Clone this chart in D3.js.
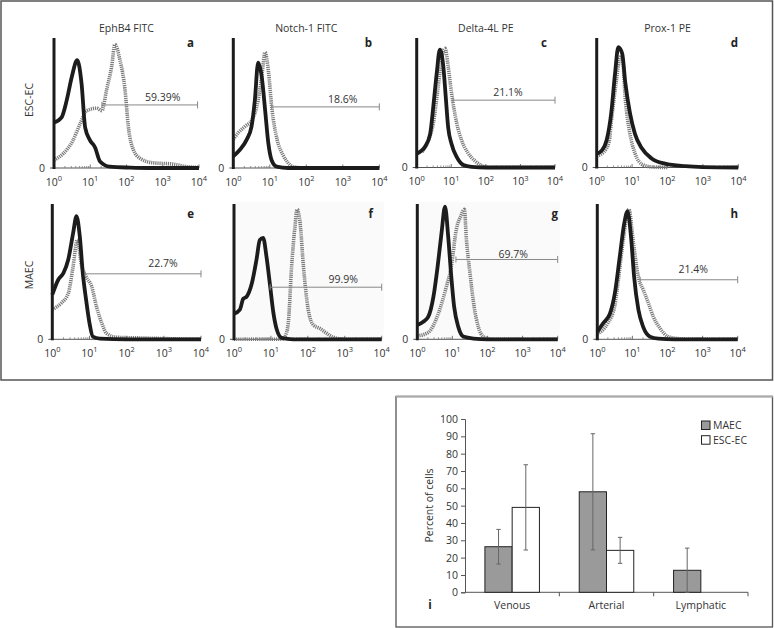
<!DOCTYPE html>
<html><head><meta charset="utf-8">
<script src="https://cdn.jsdelivr.net/npm/d3@7"></script>
<style>
body{margin:0;background:#fff;}
svg text{font-family:"Open Sans","Noto Sans",sans-serif;fill:#333;}
</style></head>
<body>
<svg id="c" width="774" height="628"></svg>
<script>
// ---------- DATA ----------
const markers = ["EphB4 FITC","Notch-1 FITC","Delta-4L PE","Prox-1 PE"];
const rowLabels = ["ESC-EC","MAEC"];
const panelLetters = ["a","b","c","d","e","f","g","h"];
const decadeTicks = [0,1,2,3,4];
// histogram curves: [log10 intensity, % of axis height]
const solidA = [[0,35],[0.21,39],[0.35,52],[0.49,70],[0.64,83],[0.76,65],[0.86,31],[0.99,21.5],[1.13,16],[1.27,5],[1.54,1],[2.1,0.3],[2.6,0],[4,0]];
const dottedA = [[0,6],[0.25,11],[0.52,21],[0.72,34],[0.9,44],[1.18,46],[1.32,44],[1.45,60],[1.59,78],[1.68,95],[1.82,83],[1.96,60],[2.05,32],[2.19,14],[2.37,7.5],[2.73,4],[3.28,3],[3.67,1],[4,0.5]];
const solidB = [[0,9],[0.18,14],[0.37,22],[0.5,32],[0.59,52],[0.68,81],[0.78,70],[0.87,45],[0.96,19],[1.05,6],[1.19,1],[1.5,0],[4,0]];
const dottedB = [[0,22],[0.13,27],[0.32,32],[0.51,37],[0.68,52],[0.79,73],[0.87,89],[0.96,75],[1.06,45],[1.2,22],[1.36,10],[1.5,4],[1.63,1],[2,0],[4,0]];
const solidC = [[0,10.6],[0.14,13],[0.24,16],[0.39,26],[0.48,47],[0.58,73],[0.67,91],[0.77,78],[0.84,54.5],[0.91,31],[1.01,18],[1.16,8],[1.35,2],[1.59,0.5],[2,0],[4,0]];
const dottedC = [[0.15,12],[0.34,21],[0.48,34],[0.62,62],[0.73,85],[0.82,92],[0.91,78],[1.01,57],[1.16,34],[1.3,21],[1.49,11],[1.69,5],[1.88,1.5],[2.1,0],[4,0]];
const solidD = [[0,10.6],[0.14,13],[0.28,21],[0.41,42],[0.52,73],[0.61,93],[0.72,88],[0.81,65],[0.94,42],[1.08,26],[1.27,15],[1.55,7],[1.93,3],[2.5,1],[3,0.3],[4,0]];
const dottedD = [[0,9],[0.2,12],[0.35,20],[0.42,37],[0.55,66],[0.66,85],[0.72,86],[0.81,52],[0.94,26],[1.08,11],[1.31,2],[1.6,0.3],[2,0]];
const solidE = [[0,33],[0.16,44],[0.3,49],[0.43,59],[0.56,78.5],[0.65,91],[0.74,76],[0.82,49],[0.91,29],[1.0,12],[1.09,2],[1.28,0.5],[2,0],[4,0]];
const dottedE = [[0,22],[0.25,27],[0.43,34],[0.56,54],[0.67,73.5],[0.79,54],[0.91,46],[1.06,39],[1.19,24],[1.33,12],[1.46,4.4],[1.73,1.5],[2.36,1],[3.07,0.5],[4,0]];
const solidF = [[0,19],[0.16,22],[0.25,30],[0.34,31.5],[0.48,41],[0.61,59],[0.7,73.5],[0.79,75],[0.88,61],[0.98,39],[1.07,19],[1.16,7],[1.29,1],[1.6,0],[4,0]];
const dottedF = [[0,0],[1.3,0],[1.38,2],[1.47,12],[1.56,54],[1.65,83],[1.71,96],[1.79,86],[1.88,54],[2.01,22],[2.15,10.6],[2.33,8],[2.51,4.4],[2.69,1.5],[3,0],[4,0]];
const solidG = [[0,10.6],[0.17,13],[0.31,16.5],[0.46,31.5],[0.58,54],[0.69,78.5],[0.79,98],[0.88,76],[0.96,49],[1.05,24],[1.17,9],[1.31,2],[1.6,0.5],[2,0],[4,0]];
const dottedG = [[0,2.5],[0.31,5],[0.6,19],[0.83,39],[0.97,54],[1.11,81],[1.24,91],[1.34,96],[1.4,73.5],[1.5,49],[1.62,24],[1.74,9],[1.88,2],[2.03,0.5],[2.3,0],[4,0]];
const solidH = [[0,5.6],[0.17,12],[0.36,19],[0.5,34],[0.64,61],[0.77,86],[0.86,94.5],[0.96,76],[1.05,46],[1.17,22],[1.31,9],[1.5,2],[1.74,0.5],[2.2,0],[4,0]];
const dottedH = [[0,4],[0.3,12],[0.5,25],[0.6,44],[0.74,73.5],[0.9,96],[1.03,71],[1.17,46],[1.31,36.5],[1.46,26.5],[1.6,16.5],[1.79,8],[2.02,2],[2.3,0.5],[2.6,0],[4,0]];
const solidCurves = [solidA,solidB,solidC,solidD,solidE,solidF,solidG,solidH];
const dottedCurves = [dottedA,dottedB,dottedC,dottedD,dottedE,dottedF,dottedG,dottedH];
// gates (marker region)
const gateLabels = ["59.39%","18.6%","21.1%",null,"22.7%","99.9%","69.7%","21.4%"];
const gateStart = [1.32,1.05,1.05,null,0.88,0.98,1.1,1.22];
const gateEnd = [3.96,4,4,null,4,4,4,4];
const gateLevel = [48.5,47,52,null,48.4,38.5,59,44];
const gateLabelAt = [3.0,3.0,2.64,null,2.98,2.96,2.73,2.73];

// bar chart (panel i)
const cellTypes = ["Venous","Arterial","Lymphatic"];
const seriesNames = ["MAEC","ESC-EC"];
const maecValues = [26.3,58.0,12.7];
const maecErrors = [10.0,33.5,12.8];
const escValues = [49.0,24.2,0];
const escErrors = [24.6,7.5,0];
const percentTicks = [0,10,20,30,40,50,60,70,80,90,100];

// ---------- LAYOUT ----------
const svg = d3.select("#c");
const panels = [
  {x0:54,x1:199,top:38,base:168,lx:194,ldy:3.5},
  {x0:233.3,x1:379.3,top:38,base:168,lx:372,ldy:4},
  {x0:416.7,x1:555,top:38,base:167.5,lx:547,ldy:4},
  {x0:596.7,x1:738.3,top:38,base:167.5,lx:738,ldy:4},
  {x0:52.3,x1:201,top:204,base:339.3,lx:194,ldy:7},
  {x0:234,x1:381.7,top:204,base:339.3,lx:373,ldy:4},
  {x0:417.3,x1:557.7,top:204,base:339.3,lx:558,ldy:1.5},
  {x0:597.3,x1:737.7,top:204,base:339.3,lx:738,ldy:7}
];
const shaded = [5,6];

// outer frames
svg.append("rect").attr("x",1).attr("y",1).attr("width",771.5).attr("height",379)
  .attr("fill","none").attr("stroke","#555").attr("stroke-width",1.5);
svg.append("rect").attr("x",396).attr("y",396.5).attr("width",376.5).attr("height",230.5)
  .attr("fill","none").attr("stroke","#555").attr("stroke-width",1.3);
svg.append("line").attr("x1",396).attr("x2",773).attr("y1",396.5).attr("y2",396.5)
  .attr("stroke","#aaa").attr("stroke-width",2);

// column titles
markers.forEach((m,i)=>{
  const p = panels[i];
  svg.append("text").attr("x",(p.x0+p.x1)/2).attr("y",32).attr("text-anchor","middle")
    .attr("font-size",10.5).text(m);
});
// row labels
rowLabels.forEach((r,i)=>{
  const cy = i===0 ? 100 : 275;
  svg.append("text").attr("transform",`translate(33,${cy}) rotate(-90)`)
    .attr("text-anchor","middle").attr("font-size",10.5).text(r);
});

const line = d3.line().curve(d3.curveMonotoneX);

panels.forEach((p,i)=>{
  const x = d3.scaleLinear().domain([0,4]).range([p.x0,p.x1]);
  const y = d3.scaleLinear().domain([0,100]).range([p.base,p.top]);
  const g = svg.append("g");
  if (shaded.includes(i)) {
    g.append("rect").attr("x",p.x0).attr("y",p.top-2).attr("width",p.x1-p.x0+2)
      .attr("height",p.base-p.top+2).attr("fill","#fafafa");
  }
  // x axis baseline
  g.append("line").attr("x1",x(0)).attr("x2",x(4)).attr("y1",y(0)).attr("y2",y(0))
    .attr("stroke","#555").attr("stroke-width",1);
  // minor log ticks
  const minors = [];
  for (let d=0; d<4; d++) for (let k=2; k<=9; k++) minors.push(d+Math.log10(k));
  g.selectAll(".mt").data(minors).enter().append("line")
    .attr("x1",d=>x(d)).attr("x2",d=>x(d)).attr("y1",y(0)).attr("y2",y(0)-2)
    .attr("stroke","#777").attr("stroke-width",0.8);
  g.selectAll(".Mt").data(decadeTicks).enter().append("line")
    .attr("x1",d=>x(d)).attr("x2",d=>x(d)).attr("y1",y(0)).attr("y2",y(0)-3.5)
    .attr("stroke","#666").attr("stroke-width",0.9);
  // decade tick labels
  decadeTicks.forEach(d=>{
    const t = g.append("text").attr("x",x(d)).attr("y",p.base+17.5)
      .attr("text-anchor","middle").attr("font-size",10.5);
    t.append("tspan").text("10");
    t.append("tspan").attr("dy",-4.5).attr("font-size",7.5).text(String(d));
  });
  // zero tick on y
  g.append("line").attr("x1",x(0)-4).attr("x2",x(0)).attr("y1",y(0)).attr("y2",y(0))
    .attr("stroke","#555");
  g.append("text").attr("x",x(0)-9).attr("y",y(0)+3.5).attr("text-anchor","end")
    .attr("font-size",10.5).text("0");
  // curves
  g.append("path").attr("d",line(dottedCurves[i].map(v=>[x(v[0]),y(v[1])])))
    .attr("fill","none").attr("stroke","#7a7a7a").attr("stroke-width",3.6)
    .attr("stroke-dasharray","1.2,0.9").attr("stroke-linejoin","round");
  g.append("path").attr("d",line(solidCurves[i].map(v=>[x(v[0]),y(v[1])])))
    .attr("fill","none").attr("stroke","#1c1c1c").attr("stroke-width",3.8)
    .attr("stroke-linejoin","round");
  // y axis (thick first-bin spike)
  g.append("line").attr("x1",x(0)).attr("x2",x(0)).attr("y1",y(0)+1).attr("y2",y(100))
    .attr("stroke","#1c1c1c").attr("stroke-width",3);
  // gate
  if (gateLabels[i]) {
    const gy = y(gateLevel[i]);
    g.append("line").attr("x1",x(gateStart[i])).attr("x2",x(gateEnd[i]))
      .attr("y1",gy).attr("y2",gy).attr("stroke","#888").attr("stroke-width",1);
    g.append("line").attr("x1",x(gateEnd[i])).attr("x2",x(gateEnd[i]))
      .attr("y1",gy-3.5).attr("y2",gy+3.5).attr("stroke","#888").attr("stroke-width",1);
    g.append("line").attr("x1",x(gateStart[i])).attr("x2",x(gateStart[i]))
      .attr("y1",gy-3).attr("y2",gy+3).attr("stroke","#888").attr("stroke-width",1);
    g.append("text").attr("x",x(gateLabelAt[i])).attr("y",gy-p.ldy)
      .attr("text-anchor","middle").attr("font-size",10.5).text(gateLabels[i]);
  }
  // panel letter
  g.append("text").attr("x",p.lx).attr("y",p.top+8.7+(i>=4?4.8:0))
    .attr("text-anchor","end").attr("font-size",11.5).attr("font-weight","bold")
    .style("fill","#222").text(panelLetters[i]);
});

// ---------- BAR CHART ----------
const bx = d3.scaleBand().domain(cellTypes).range([465,748]).padding(0);
const bs = d3.scaleBand().domain(seriesNames).range([0,bx.bandwidth()]).paddingInner(0).paddingOuter(0.73);
const by = d3.scaleLinear().domain([0,100]).range([592.3,419]);
const bg = svg.append("g");

const yAx = bg.append("g").attr("transform","translate(465,0)")
  .call(d3.axisLeft(by).tickValues(percentTicks).tickSize(4).tickPadding(3));
yAx.select(".domain").attr("stroke","#555");
yAx.selectAll(".tick line").attr("stroke","#555");
yAx.selectAll("text").attr("font-size",10.5).attr("font-family",null).style("fill","#333");

bg.append("line").attr("x1",465).attr("x2",748).attr("y1",by(0)).attr("y2",by(0)).attr("stroke","#555");
bg.selectAll(".ct").data(cellTypes).enter().append("line")
  .attr("x1",d=>bx(d)+bx.bandwidth()).attr("x2",d=>bx(d)+bx.bandwidth())
  .attr("y1",by(0)).attr("y2",by(0)+4).attr("stroke","#555");
bg.selectAll(".cl").data(cellTypes).enter().append("text")
  .attr("x",d=>bx(d)+bx.bandwidth()/2).attr("y",608.5).attr("text-anchor","middle")
  .attr("font-size",10.5).text(d=>d);

const seriesData = [
  {name:"MAEC", values:maecValues, errors:maecErrors, fill:"#9a9a9a"},
  {name:"ESC-EC", values:escValues, errors:escErrors, fill:"#ffffff"}
];
seriesData.forEach(s=>{
  cellTypes.forEach((c,j)=>{
    const v = s.values[j];
    const x0 = bx(c)+bs(s.name);
    if (v>0) {
      bg.append("rect").attr("x",x0).attr("y",by(v)).attr("width",bs.bandwidth())
        .attr("height",by(0)-by(v)).attr("fill",s.fill).attr("stroke","#222").attr("stroke-width",1);
    }
    const e = s.errors[j];
    if (e>0) {
      const cx = x0+bs.bandwidth()/2;
      bg.append("line").attr("x1",cx).attr("x2",cx).attr("y1",by(v+e)).attr("y2",by(Math.max(0,v-e)))
        .attr("stroke","#666").attr("stroke-width",1);
      [v+e, Math.max(0,v-e)].forEach(w=>{
        bg.append("line").attr("x1",cx-2.2).attr("x2",cx+2.2).attr("y1",by(w)).attr("y2",by(w))
          .attr("stroke","#666").attr("stroke-width",1);
      });
    }
  });
});

// y label
bg.append("text").attr("transform","translate(433,505.5) rotate(-90)")
  .attr("text-anchor","middle").attr("font-size",10.5).text("Percent of cells");
// panel letter i
bg.append("text").attr("x",430).attr("y",608.5).attr("text-anchor","middle")
  .attr("font-size",11.5).attr("font-weight","bold").style("fill","#222").text("i");

// legend
seriesData.forEach((s,k)=>{
  const ly = 421 + k*14.7;
  bg.append("rect").attr("x",701.5).attr("y",ly).attr("width",8.5).attr("height",8.5)
    .attr("fill",s.fill).attr("stroke","#222").attr("stroke-width",1);
  bg.append("text").attr("x",713).attr("y",ly+8).attr("font-size",10.5).text(s.name);
});
</script>
</body></html>
